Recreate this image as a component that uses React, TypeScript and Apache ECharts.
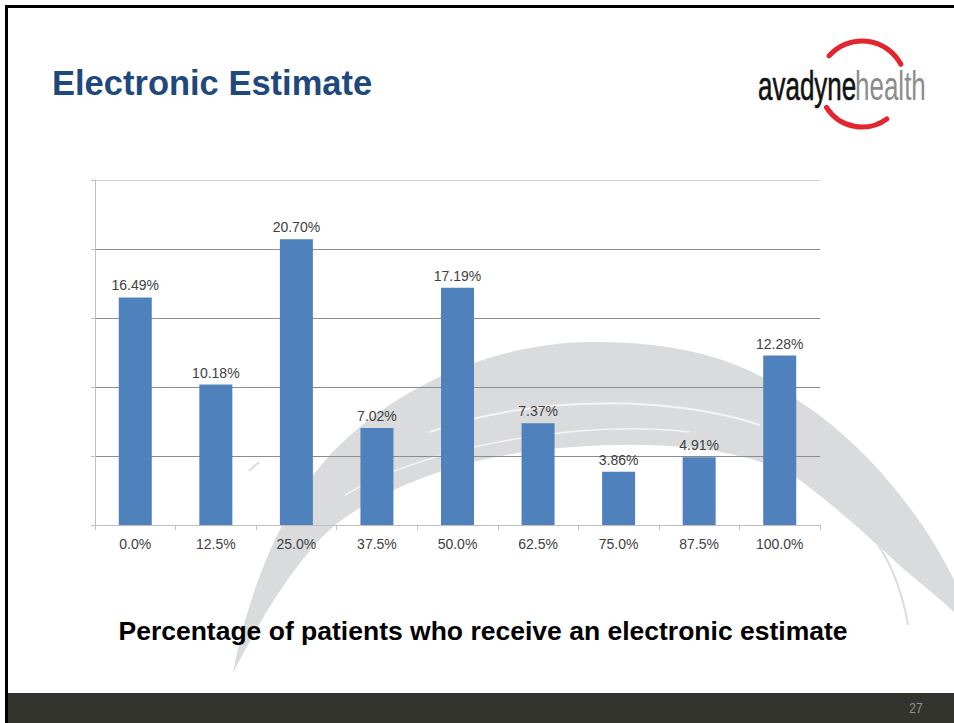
import React, { useEffect, useRef } from "react";
import * as echarts from "echarts";

// Share of patients (%) per electronic-estimate coverage bucket
const categories = ["0.0%", "12.5%", "25.0%", "37.5%", "50.0%", "62.5%", "75.0%", "87.5%", "100.0%"];
const shares = [16.49, 10.18, 20.7, 7.02, 17.19, 7.37, 3.86, 4.91, 12.28];

const titleText = "Electronic Estimate";
const captionText = "Percentage of patients who receive an electronic estimate";
const pageNumber = "27";

// Large grey brush-stroke arc behind the chart
const swooshPath =
  "M 233 673 C 250 580, 290 490, 345 440 C 410 380, 500 343, 590 342 " +
  "C 700 341, 760 370, 800 402 C 860 440, 920 510, 954 580 L 954 612 " +
  "C 930 590, 910 575, 897 563 C 870 538, 840 510, 797 478 " +
  "C 740 445, 650 440, 560 448 C 460 456, 380 490, 335 525 C 295 560, 260 620, 233 673 Z";
echarts.graphic.registerShape("swoosh", echarts.graphic.extendPath(swooshPath, {}));

export default function App() {
  const ref = useRef<HTMLDivElement>(null);

  useEffect(() => {
    if (!ref.current) return;
    const chart = echarts.init(ref.current, null, { renderer: "svg" });
    const font = "Arial, 'Liberation Sans', sans-serif";

    chart.setOption({
      animation: false,
      backgroundColor: "#ffffff",
      grid: { left: 95, right: 134, top: 180, bottom: 198 },
      xAxis: {
        type: "category",
        data: categories,
        axisLine: { show: true, lineStyle: { color: "#bfbfbf", width: 1 } },
        axisTick: { show: true, length: 5, lineStyle: { color: "#bfbfbf" } },
        axisLabel: { color: "#404040", fontSize: 14, fontFamily: font, margin: 12 },
        splitLine: { show: false },
      },
      yAxis: {
        type: "value",
        min: 0,
        max: 25,
        interval: 5,
        axisLine: { show: true, lineStyle: { color: "#bfbfbf", width: 1 } },
        axisTick: { show: true, length: 4, lineStyle: { color: "#bfbfbf" } },
        axisLabel: { show: false },
        splitLine: {
          show: true,
          lineStyle: {
            color: ["#bfbfbf", "#8c8c8c", "#8c8c8c", "#8c8c8c", "#8c8c8c", "#d0d0d0"],
            width: 1,
          },
        },
      },
      series: [
        {
          type: "bar",
          data: shares,
          barWidth: 33,
          itemStyle: { color: "#4f81bd" },
          label: {
            show: true,
            position: "top",
            distance: 5,
            color: "#404040",
            fontSize: 14,
            fontFamily: font,
            formatter: (p: any) => p.value.toFixed(2) + "%",
          },
        },
      ],
      graphic: {
        elements: [
          // watermark arc
          { type: "swoosh", x: 0, y: 0, z: -10, style: { fill: "#dadbdc" } },
          {
            type: "bezierCurve",
            z: -9,
            shape: { x1: 430, y1: 432, x2: 760, y2: 425, cpx1: 540, cpy1: 392, cpx2: 680, cpy2: 398 },
            style: { stroke: "#f4f4f4", lineWidth: 2, fill: null },
          },
          {
            type: "bezierCurve",
            z: -9,
            shape: { x1: 345, y1: 495, x2: 690, y2: 432, cpx1: 430, cpy1: 445, cpx2: 580, cpy2: 420 },
            style: { stroke: "#f4f4f4", lineWidth: 1.5, fill: null },
          },
          {
            type: "bezierCurve",
            z: -9,
            shape: { x1: 878, y1: 545, x2: 908, y2: 625, cpx1: 892, cpy1: 565, cpx2: 903, cpy2: 595 },
            style: { stroke: "#dadbdc", lineWidth: 2, fill: null },
          },
          {
            type: "line",
            z: -9,
            shape: { x1: 249, y1: 471, x2: 259, y2: 462 },
            style: { stroke: "#dadbdc", lineWidth: 2 },
          },
          // slide frame
          { type: "rect", z: 10, shape: { x: 5, y: 5, width: 949, height: 3 }, style: { fill: "#000000" } },
          { type: "rect", z: 10, shape: { x: 5, y: 5, width: 3, height: 718 }, style: { fill: "#000000" } },
          { type: "rect", z: 10, shape: { x: 8, y: 693, width: 946, height: 30 }, style: { fill: "#33342e" } },
          {
            type: "text",
            z: 11,
            x: 916,
            y: 708,
            scaleX: 0.8,
            style: {
              text: pageNumber,
              fill: "#8f8f8f",
              font: "15px " + font,
              textAlign: "center",
              textVerticalAlign: "middle",
            },
          },
          // slide title
          {
            type: "text",
            z: 10,
            x: 52,
            y: 83,
            style: {
              text: titleText,
              fill: "#1f497d",
              font: "bold 34.5px " + font,
              textAlign: "left",
              textVerticalAlign: "middle",
            },
          },
          // caption under the chart
          {
            type: "text",
            z: 10,
            x: 483,
            y: 631,
            style: {
              text: captionText,
              fill: "#000000",
              font: "bold 26.5px " + font,
              textAlign: "center",
              textVerticalAlign: "middle",
            },
          },
          // logo
          {
            type: "arc",
            z: 10,
            shape: { cx: 862, cy: 85, r: 44, startAngle: -2.42, endAngle: -0.49, clockwise: true },
            style: { stroke: "#e1262d", lineWidth: 5, fill: null, lineCap: "round" },
          },
          {
            type: "arc",
            z: 10,
            shape: { cx: 862, cy: 85, r: 42, startAngle: 0.94, endAngle: 2.58, clockwise: true },
            style: { stroke: "#e1262d", lineWidth: 5, fill: null, lineCap: "round" },
          },
          {
            type: "text",
            z: 11,
            x: 758,
            y: 86,
            scaleX: 0.65,
            style: {
              text: "avadyne",
              fill: "#111111",
              font: "500 40px " + font,
              textAlign: "left",
              textVerticalAlign: "middle",
              stroke: "#111111",
              lineWidth: 0.6,
            },
          },
          {
            type: "text",
            z: 11,
            x: 855,
            y: 86,
            scaleX: 0.65,
            style: {
              text: "health",
              fill: "#8c8c8c",
              font: "40px " + font,
              textAlign: "left",
              textVerticalAlign: "middle",
            },
          },
        ],
      },
    });

    return () => chart.dispose();
  }, []);

  return (
    <div
      ref={ref}
      style={{ position: "absolute", left: 0, top: 0, width: 954, height: 723 }}
    />
  );
}
